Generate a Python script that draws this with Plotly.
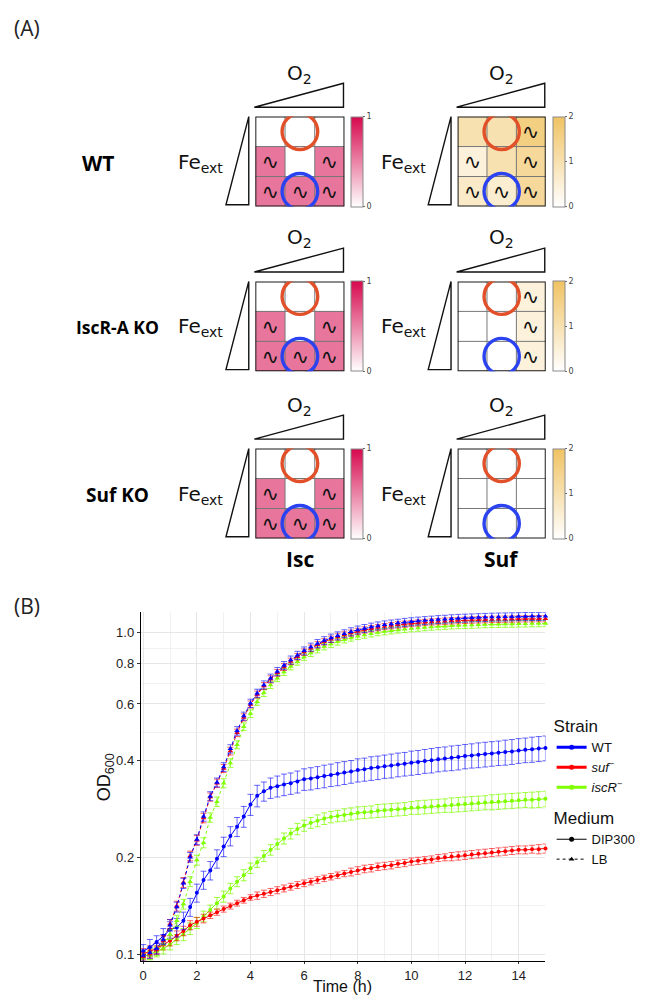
import plotly.graph_objects as go

# page is 649 x 1004; the browser body adds an 8 px margin, so the figure is 16 px smaller
PAGE_W, PAGE_H, OFF = 649, 1004, 8
W, H = PAGE_W - 2 * OFF, PAGE_H - 2 * OFF

# ---------------- Panel A data ----------------
isc_wt = [[0, 0, 0], [0.56, 0, 0.56], [0.56, 0.56, 0.56]]
isc_iscr = [[0, 0, 0], [0.56, 0, 0.56], [0.56, 0.56, 0.56]]
isc_sufko = [[0, 0, 0], [0.56, 0, 0.56], [0.56, 0.56, 0.56]]
suf_wt = [[1.0, 1.0, 1.6], [0.45, 1.0, 1.3], [0.7, 0.6, 1.3]]
suf_iscr = [[0, 0, 0.45], [0, 0, 0.45], [0, 0, 0.45]]
suf_sufko = [[0, 0, 0], [0, 0, 0], [0, 0, 0]]

isc_wt_sq = [[0, 0, 0], [1, 0, 1], [1, 1, 1]]
isc_iscr_sq = [[0, 0, 0], [1, 0, 1], [1, 1, 1]]
isc_sufko_sq = [[0, 0, 0], [1, 0, 1], [1, 1, 1]]
suf_wt_sq = [[0, 0, 1], [1, 0, 1], [1, 1, 1]]
suf_iscr_sq = [[0, 0, 1], [0, 0, 1], [0, 0, 1]]
suf_sufko_sq = [[0, 0, 0], [0, 0, 0], [0, 0, 0]]

row_labels = ["WT", "IscR-A KO", "Suf KO"]
col_labels = ["Isc", "Suf"]
isc_ticks = [0, 1]
suf_ticks = [0, 1, 2]

# ---------------- Panel B data ----------------
time_h = [0, 0.25, 0.5, 0.75, 1, 1.25, 1.5, 1.75, 2, 2.25,
          2.5, 2.75, 3, 3.25, 3.5, 3.75, 4, 4.25, 4.5, 4.75,
          5, 5.25, 5.5, 5.75, 6, 6.25, 6.5, 6.75, 7, 7.25,
          7.5, 7.75, 8, 8.25, 8.5, 8.75, 9, 9.25, 9.5, 9.75,
          10, 10.25, 10.5, 10.75, 11, 11.25, 11.5, 11.75, 12, 12.25,
          12.5, 12.75, 13, 13.25, 13.5, 13.75, 14, 14.25, 14.5, 14.75,
          15]

wt_dip = [0.102, 0.105, 0.109, 0.114, 0.119, 0.121, 0.127, 0.140, 0.155, 0.170,
          0.182, 0.198, 0.216, 0.233, 0.249, 0.268, 0.292, 0.311, 0.321, 0.329,
          0.333, 0.337, 0.340, 0.344, 0.350, 0.352, 0.355, 0.358, 0.361, 0.364,
          0.367, 0.370, 0.374, 0.376, 0.379, 0.381, 0.384, 0.386, 0.389, 0.391,
          0.394, 0.396, 0.399, 0.401, 0.404, 0.406, 0.408, 0.410, 0.413, 0.415,
          0.417, 0.419, 0.421, 0.423, 0.425, 0.427, 0.430, 0.432, 0.434, 0.436,
          0.438]
wt_dip_err = [0.005, 0.006, 0.005, 0.006, 0.007, 0.008, 0.008, 0.009, 0.010, 0.011,
              0.012, 0.013, 0.015, 0.016, 0.017, 0.020, 0.022, 0.024, 0.022, 0.024,
              0.025, 0.026, 0.026, 0.027, 0.027, 0.028, 0.028, 0.029, 0.029, 0.030,
              0.030, 0.030, 0.031, 0.031, 0.032, 0.032, 0.032, 0.033, 0.033, 0.033,
              0.034, 0.034, 0.034, 0.035, 0.035, 0.035, 0.036, 0.036, 0.036, 0.036,
              0.037, 0.037, 0.037, 0.037, 0.038, 0.038, 0.038, 0.038, 0.039, 0.039,
              0.039]

suf_dip = [0.100, 0.102, 0.104, 0.107, 0.110, 0.114, 0.118, 0.123, 0.126, 0.129,
           0.132, 0.135, 0.138, 0.141, 0.144, 0.147, 0.150, 0.152, 0.154, 0.156,
           0.158, 0.160, 0.162, 0.164, 0.166, 0.168, 0.170, 0.172, 0.174, 0.176,
           0.178, 0.180, 0.182, 0.184, 0.185, 0.187, 0.188, 0.189, 0.191, 0.192,
           0.194, 0.195, 0.196, 0.197, 0.199, 0.200, 0.201, 0.202, 0.203, 0.204,
           0.205, 0.206, 0.207, 0.208, 0.209, 0.210, 0.211, 0.211, 0.212, 0.212,
           0.213]
suf_dip_err = [0.004, 0.004, 0.004, 0.004, 0.004, 0.004, 0.004, 0.004, 0.004, 0.004,
               0.003, 0.003, 0.003, 0.003, 0.003, 0.003, 0.003, 0.004, 0.004, 0.004,
               0.004, 0.004, 0.004, 0.004, 0.004, 0.004, 0.004, 0.004, 0.004, 0.004,
               0.004, 0.005, 0.005, 0.005, 0.005, 0.005, 0.005, 0.005, 0.005, 0.005,
               0.005, 0.005, 0.005, 0.005, 0.005, 0.005, 0.006, 0.006, 0.006, 0.006,
               0.006, 0.006, 0.006, 0.006, 0.006, 0.006, 0.006, 0.006, 0.006, 0.007,
               0.007]

iscr_dip = [0.098, 0.100, 0.102, 0.104, 0.107, 0.111, 0.115, 0.120, 0.125, 0.131,
            0.137, 0.144, 0.151, 0.160, 0.168, 0.176, 0.185, 0.193, 0.202, 0.211,
            0.220, 0.229, 0.237, 0.245, 0.251, 0.256, 0.260, 0.264, 0.267, 0.269,
            0.271, 0.273, 0.275, 0.276, 0.277, 0.279, 0.280, 0.281, 0.282, 0.283,
            0.285, 0.286, 0.287, 0.288, 0.289, 0.290, 0.291, 0.292, 0.293, 0.294,
            0.295, 0.296, 0.297, 0.298, 0.299, 0.300, 0.301, 0.302, 0.302, 0.303,
            0.304]
iscr_dip_err = [0.004, 0.004, 0.004, 0.004, 0.004, 0.004, 0.005, 0.005, 0.005, 0.005,
                0.005, 0.006, 0.006, 0.006, 0.006, 0.007, 0.007, 0.007, 0.008, 0.008,
                0.008, 0.009, 0.009, 0.010, 0.010, 0.010, 0.011, 0.011, 0.011, 0.011,
                0.012, 0.012, 0.012, 0.012, 0.012, 0.013, 0.013, 0.013, 0.013, 0.013,
                0.013, 0.014, 0.014, 0.014, 0.014, 0.014, 0.015, 0.015, 0.015, 0.015,
                0.015, 0.015, 0.016, 0.016, 0.016, 0.016, 0.016, 0.016, 0.017, 0.017,
                0.017]

wt_lb = [0.099, 0.101, 0.104, 0.111, 0.123, 0.140, 0.166, 0.200, 0.227, 0.268,
         0.310, 0.342, 0.382, 0.435, 0.495, 0.550, 0.603, 0.648, 0.688, 0.722,
         0.757, 0.790, 0.822, 0.850, 0.878, 0.902, 0.925, 0.945, 0.962, 0.978,
         0.993, 1.007, 1.020, 1.031, 1.041, 1.050, 1.058, 1.065, 1.071, 1.077,
         1.082, 1.087, 1.091, 1.095, 1.099, 1.102, 1.105, 1.108, 1.110, 1.112,
         1.114, 1.116, 1.118, 1.119, 1.120, 1.121, 1.122, 1.123, 1.124, 1.124,
         1.125]
wt_lb_err = [0.004, 0.004, 0.004, 0.004, 0.005, 0.005, 0.006, 0.007, 0.008, 0.009,
             0.010, 0.011, 0.012, 0.013, 0.015, 0.016, 0.018, 0.019, 0.020, 0.021,
             0.022, 0.023, 0.024, 0.025, 0.025, 0.026, 0.027, 0.027, 0.028, 0.028,
             0.028, 0.029, 0.029, 0.029, 0.030, 0.030, 0.030, 0.030, 0.030, 0.031,
             0.031, 0.031, 0.031, 0.031, 0.031, 0.031, 0.032, 0.032, 0.032, 0.032,
             0.032, 0.032, 0.032, 0.032, 0.032, 0.032, 0.032, 0.033, 0.033, 0.033,
             0.033]

suf_lb = [0.098, 0.100, 0.103, 0.110, 0.124, 0.141, 0.167, 0.202, 0.226, 0.265,
          0.308, 0.340, 0.378, 0.428, 0.488, 0.545, 0.598, 0.642, 0.682, 0.716,
          0.750, 0.782, 0.814, 0.842, 0.870, 0.894, 0.917, 0.937, 0.954, 0.970,
          0.984, 0.997, 1.009, 1.020, 1.029, 1.037, 1.045, 1.052, 1.058, 1.063,
          1.068, 1.072, 1.076, 1.080, 1.083, 1.086, 1.089, 1.091, 1.093, 1.095,
          1.097, 1.098, 1.100, 1.101, 1.102, 1.103, 1.104, 1.105, 1.105, 1.106,
          1.106]
suf_lb_err = [0.003, 0.003, 0.003, 0.004, 0.004, 0.005, 0.006, 0.007, 0.008, 0.009,
              0.009, 0.010, 0.011, 0.012, 0.013, 0.014, 0.015, 0.016, 0.017, 0.018,
              0.018, 0.019, 0.019, 0.020, 0.020, 0.021, 0.021, 0.021, 0.022, 0.022,
              0.022, 0.022, 0.023, 0.023, 0.023, 0.023, 0.023, 0.024, 0.024, 0.024,
              0.024, 0.024, 0.024, 0.024, 0.024, 0.025, 0.025, 0.025, 0.025, 0.025,
              0.025, 0.025, 0.025, 0.025, 0.025, 0.025, 0.025, 0.025, 0.025, 0.025,
              0.025]

iscr_lb = [0.097, 0.099, 0.102, 0.107, 0.115, 0.127, 0.143, 0.168, 0.196, 0.222,
           0.266, 0.298, 0.340, 0.393, 0.448, 0.510, 0.560, 0.610, 0.650, 0.688,
           0.722, 0.755, 0.785, 0.812, 0.840, 0.864, 0.886, 0.905, 0.922, 0.937,
           0.951, 0.963, 0.974, 0.984, 0.993, 1.001, 1.008, 1.014, 1.020, 1.025,
           1.030, 1.034, 1.038, 1.042, 1.045, 1.048, 1.051, 1.053, 1.055, 1.057,
           1.059, 1.061, 1.062, 1.063, 1.064, 1.065, 1.066, 1.067, 1.068, 1.068,
           1.069]
iscr_lb_err = [0.003, 0.003, 0.003, 0.004, 0.004, 0.005, 0.005, 0.006, 0.007, 0.008,
               0.009, 0.010, 0.011, 0.012, 0.013, 0.014, 0.015, 0.016, 0.017, 0.018,
               0.018, 0.019, 0.019, 0.020, 0.020, 0.021, 0.021, 0.021, 0.022, 0.022,
               0.022, 0.022, 0.022, 0.023, 0.023, 0.023, 0.023, 0.023, 0.023, 0.024,
               0.024, 0.024, 0.024, 0.024, 0.024, 0.024, 0.024, 0.024, 0.025, 0.025,
               0.025, 0.025, 0.025, 0.025, 0.025, 0.025, 0.025, 0.025, 0.025, 0.025,
               0.025]

y_tickvals = [0.1, 0.2, 0.4, 0.6, 0.8, 1.0]
y_ticktext = ["0.1", "0.2", "0.4", "0.6", "0.8", "1.0"]
y_minor = [0.1414, 0.2828, 0.4899, 0.6928, 0.8944]
x_tickvals = [0, 2, 4, 6, 8, 10, 12, 14]
x_minor = [1, 3, 5, 7, 9, 11, 13, 15]

strain_names = ["WT", "<i>suf</i><sup>−</sup>", "<i>iscR</i><sup>−</sup>"]
medium_names = ["DIP300", "LB"]


# ---------------- helpers (page pixels -> paper) ----------------
def fx(p):
    return (p - OFF) / W


def fy(p):
    return 1 - (p - OFF) / H


fig = go.Figure()
shapes = []
annotations = []

SANS = "DejaVu Sans"
LAB = "Open Sans"
PLOT = "Liberation Sans"


def ann(text, x, y, size, family=SANS, color="#111111", xanchor="center",
        yanchor="middle", angle=0):
    annotations.append(dict(text=text, x=fx(x), y=fy(y), xref="paper", yref="paper",
                            showarrow=False, xanchor=xanchor, yanchor=yanchor,
                            textangle=angle,
                            font=dict(size=size, family=family, color=color)))


def tri(pts):
    d = "M {} {} L {} {} L {} {} Z".format(*[v for p in pts for v in (fx(p[0]), fy(p[1]))])
    shapes.append(dict(type="path", xref="paper", yref="paper", path=d,
                       line=dict(color="#111111", width=1.4), fillcolor="rgba(0,0,0,0)",
                       layer="above"))


# ---------------- Panel A ----------------
grid_x = {"Isc": (259.5, 350.5), "Suf": (466.0, 556.0)}
row_tops = [116.7, 281.7, 449.0]
cell_h = 90.0
scales = {
    "Isc": dict(cs=[[0, "#ffffff"], [1, "#d6094f"]], zmax=1, ticks=isc_ticks),
    "Suf": dict(cs=[[0, "#ffffff"], [1, "#f0c363"]], zmax=2, ticks=suf_ticks),
}
panels = [
    (isc_wt, isc_wt_sq, "Isc", 0), (suf_wt, suf_wt_sq, "Suf", 0),
    (isc_iscr, isc_iscr_sq, "Isc", 1), (suf_iscr, suf_iscr_sq, "Suf", 1),
    (isc_sufko, isc_sufko_sq, "Isc", 2), (suf_sufko, suf_sufko_sq, "Suf", 2),
]

for i, (z, sq, col, r) in enumerate(panels):
    k = i + 2
    gx0, gx1 = grid_x[col]
    top = row_tops[r]
    bot = top + cell_h
    sc = scales[col]
    fig.layout[f"xaxis{k}"] = dict(domain=[fx(gx0), fx(gx1)], range=[-0.5, 2.5],
                                  visible=False, fixedrange=True, anchor=f"y{k}")
    fig.layout[f"yaxis{k}"] = dict(domain=[fy(bot), fy(top)], range=[2.5, -0.5],
                                  visible=False, fixedrange=True, anchor=f"x{k}")
    txt = [["∿" if v else " " for v in row] for row in sq]
    fig.add_trace(go.Heatmap(
        z=z, x=[0, 1, 2], y=[0, 1, 2], text=txt, texttemplate="%{text}",
        textfont=dict(size=21, color="#111111", family=SANS),
        colorscale=sc["cs"], zmin=0, zmax=sc["zmax"], xaxis=f"x{k}", yaxis=f"y{k}",
        hoverinfo="skip",
        colorbar=dict(x=fx(gx1 + 7), xanchor="left", y=fy(top + cell_h / 2),
                      yanchor="middle", len=cell_h, lenmode="pixels", thickness=12,
                      thicknessmode="pixels", xpad=0, ypad=0, outlinewidth=1,
                      outlinecolor="#8a8a8a", tickvals=sc["ticks"],
                      ticktext=[str(t) for t in sc["ticks"]], ticks="outside",
                      ticklen=2, tickwidth=0.8, tickcolor="#666666",
                      tickfont=dict(size=8, color="#444444", family=SANS)),
    ))
    xr, yr = f"x{k}", f"y{k}"
    for v in (0.5, 1.5):
        shapes.append(dict(type="line", xref=xr, yref=yr, x0=v, x1=v, y0=-0.5, y1=2.5,
                           line=dict(color="#777777", width=1)))
        shapes.append(dict(type="line", xref=xr, yref=yr, x0=-0.5, x1=2.5, y0=v, y1=v,
                           line=dict(color="#777777", width=1)))
    shapes.append(dict(type="rect", xref=xr, yref=yr, x0=-0.5, x1=2.5, y0=-0.5, y1=2.5,
                       line=dict(color="#1a1a1a", width=2)))
    shapes.append(dict(type="circle", xref=xr, yref=yr, x0=0.4, x1=1.6, y0=-0.6, y1=0.6,
                       line=dict(color="#e2502a", width=3.4)))
    shapes.append(dict(type="circle", xref=xr, yref=yr, x0=0.4, x1=1.6, y0=1.4, y1=2.6,
                       line=dict(color="#2b42f0", width=3.4)))
    # gradient triangles
    tri([(gx0 - 1, top - 9.4), (gx1 - 1, top - 33.4), (gx1 - 1, top - 9.4)])
    tri([(gx0 - 30, bot - 1.7), (gx0 - 6.7, bot - 1.7), (gx0 - 6.7, top)])
    ann("O<sub>2</sub>", (gx0 + gx1) / 2, top - 43, 20)
    ann("Fe<sub>ext</sub>", gx0 - 55.5, top + 46, 20)

ann("(A)", 11, 28, 21, family=LAB, color="#222222", xanchor="left")
ann("(B)", 11, 607, 21, family=LAB, color="#222222", xanchor="left")
for lab, xc, r, sz in zip(row_labels, [99, 119, 119], range(3), [21, 17.5, 19]):
    ann(f"<b>{lab}</b>", xc, row_tops[r] + 46, sz, family=LAB, color="#000000")
for lab, col in zip(col_labels, ["Isc", "Suf"]):
    gx0, gx1 = grid_x[col]
    ann(f"<b>{lab}</b>", (gx0 + gx1) / 2, 560, 21, family=LAB, color="#000000")

# ---------------- Panel B ----------------
colors = {"WT": "#0000ff", "suf": "#ff0000", "iscR": "#7fff00"}
err_colors = {"WT": "rgba(0,0,255,0.6)", "suf": "rgba(255,0,0,0.6)",
              "iscR": "rgba(127,255,0,0.75)"}
series = [
    ("iscR", "DIP", iscr_dip, iscr_dip_err), ("suf", "DIP", suf_dip, suf_dip_err),
    ("WT", "DIP", wt_dip, wt_dip_err),
    ("iscR", "LB", iscr_lb, iscr_lb_err), ("suf", "LB", suf_lb, suf_lb_err),
    ("WT", "LB", wt_lb, wt_lb_err),
]
for strain, med, vals, err in series:
    dip = med == "DIP"
    fig.add_trace(go.Scatter(
        x=time_h, y=vals, mode="lines+markers",
        error_y=dict(type="data", array=err, visible=True, color=err_colors[strain],
                     thickness=1, width=3),
        line=dict(color=colors[strain], width=1, dash="solid" if dip else "dot"),
        marker=dict(symbol="circle" if dip else "triangle-up", size=4 if dip else 5,
                    color=colors[strain]),
        showlegend=False, cliponaxis=False, hoverinfo="skip",
    ))

for name, key in zip(strain_names, ["WT", "suf", "iscR"]):
    fig.add_trace(go.Scatter(x=[None], y=[None], mode="lines+markers", name=name,
                             line=dict(color=colors[key], width=3),
                             marker=dict(symbol="circle", size=5, color=colors[key]),
                             legend="legend"))
for name, dash, sym in zip(medium_names, ["solid", "dot"], ["circle", "triangle-up"]):
    fig.add_trace(go.Scatter(x=[None], y=[None], mode="lines+markers", name=name,
                             line=dict(color="#000000", width=1, dash=dash),
                             marker=dict(symbol=sym, size=5, color="#000000"),
                             legend="legend2"))

fig.update_layout(
    xaxis=dict(domain=[fx(142.7), fx(555.7)], range=[-0.085, 15.0], anchor="y",
               tickvals=x_tickvals, ticks="outside", ticklen=2, tickcolor="#333333",
               showline=True, linecolor="#000000", linewidth=1.4,
               showgrid=True, gridcolor="#e6e6e6", gridwidth=1.1, zeroline=False,
               minor=dict(tickvals=x_minor, showgrid=True, gridcolor="#f1f1f1",
                          gridwidth=0.7, ticks=""),
               tickfont=dict(size=13, family=PLOT, color="#222222")),
    yaxis=dict(domain=[fy(962), fy(612.7)], type="log", range=[-1.0218, 0.0641],
               anchor="x", tickvals=y_tickvals, ticktext=y_ticktext, ticks="outside",
               ticklen=3, tickcolor="#333333", showline=True, linecolor="#000000",
               linewidth=1.4, showgrid=True, gridcolor="#e6e6e6", gridwidth=1.1,
               zeroline=False,
               minor=dict(tickvals=y_minor, showgrid=True, gridcolor="#f1f1f1",
                          gridwidth=0.7, ticks=""),
               tickfont=dict(size=13, family=PLOT, color="#222222")),
)

ann("Time (h)", 349, 987.5, 16, family=PLOT, color="#111111")
ann("OD<sub>600</sub>", 106, 778, 18, family=PLOT, color="#111111", angle=-90)

fig.update_layout(
    width=W, height=H, margin=dict(l=0, r=0, t=0, b=0),
    paper_bgcolor="white", plot_bgcolor="white",
    font=dict(family=SANS, color="#111111"),
    shapes=shapes, annotations=annotations,
    legend=dict(title=dict(text="Strain", font=dict(size=17, family=PLOT)),
                x=fx(562), xanchor="left", y=fy(711), yanchor="top",
                font=dict(size=13, family=PLOT), bgcolor="rgba(0,0,0,0)",
                itemwidth=30, tracegroupgap=0),
    legend2=dict(title=dict(text="Medium", font=dict(size=17, family=PLOT)),
                 x=fx(562), xanchor="left", y=fy(803), yanchor="top",
                 font=dict(size=13, family=PLOT), bgcolor="rgba(0,0,0,0)",
                 itemwidth=30, tracegroupgap=0),
)

fig.write_html("out.html")
